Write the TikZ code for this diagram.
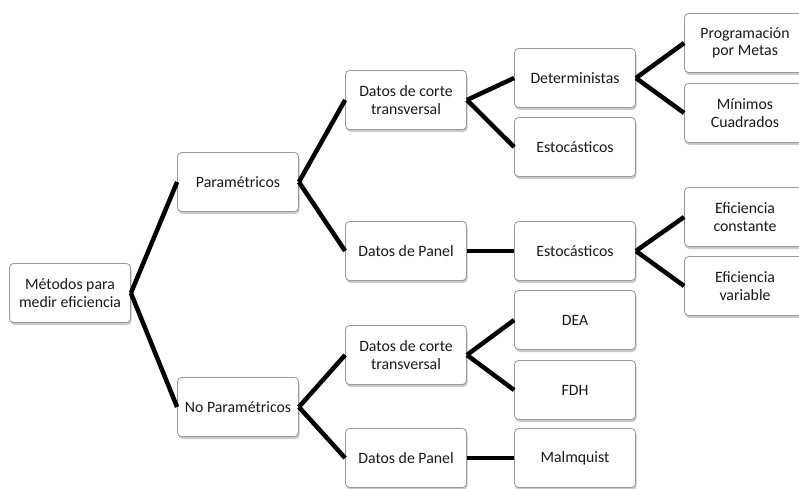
\documentclass[tikz,border=0pt]{standalone}
\usepackage{fontspec}
\setmainfont{Carlito}
\usetikzlibrary{shadows}
\tikzset{
  box/.style={draw=black!40, line width=0.8pt, fill=white, rounded corners=4pt,
    minimum width=121pt, minimum height=59pt, align=center, inner sep=2pt,
    font=\fontsize{15.8}{17.5}\selectfont, text=black!90,
    drop shadow={shadow xshift=1pt, shadow yshift=-2.5pt, opacity=0.35, fill=black!60}},
  link/.style={line width=4.5pt, black}
}
\begin{document}
\begin{tikzpicture}[x=1pt,y=-1pt]
\useasboundingbox (0,0) rectangle (799,489);
\clip (0,0) rectangle (799,489);
\node[box] (met) at (70,293) {Métodos para\\medir eficiencia};
\node[box] (par) at (238,182) {Paramétricos};
\node[box] (nopar) at (238,407) {No Paramétricos};
\node[box] (dct1) at (406,100) {Datos de corte\\transversal};
\node[box] (dp1) at (406,251) {Datos de Panel};
\node[box] (det) at (575,78) {Deterministas};
\node[box] (est1) at (575,147) {Estocásticos};
\node[box] (est2) at (575,251) {Estocásticos};
\node[box] (prog) at (745,43) {Programación\\por Metas};
\node[box] (min) at (745,113) {Mínimos\\Cuadrados};
\node[box] (efc) at (745,217) {Eficiencia\\constante};
\node[box] (efv) at (745,286) {Eficiencia\\variable};
\node[box] (dct2) at (406,355) {Datos de corte\\transversal};
\node[box] (dp2) at (406,458) {Datos de Panel};
\node[box] (dea) at (575,320) {DEA};
\node[box] (fdh) at (575,390) {FDH};
\node[box] (mal) at (575,458) {Malmquist};
\draw[link] (met.east) -- (par.west);
\draw[link] (met.east) -- (nopar.west);
\draw[link] (par.east) -- (dct1.west);
\draw[link] (par.east) -- (dp1.west);
\draw[link] (dct1.east) -- (det.west);
\draw[link] (dct1.east) -- (est1.west);
\draw[link] (det.east) -- (prog.west);
\draw[link] (det.east) -- (min.west);
\draw[link] (dp1.east) -- (est2.west);
\draw[link] (est2.east) -- (efc.west);
\draw[link] (est2.east) -- (efv.west);
\draw[link] (nopar.east) -- (dct2.west);
\draw[link] (nopar.east) -- (dp2.west);
\draw[link] (dct2.east) -- (dea.west);
\draw[link] (dct2.east) -- (fdh.west);
\draw[link] (dp2.east) -- (mal.west);
\end{tikzpicture}
\end{document}
